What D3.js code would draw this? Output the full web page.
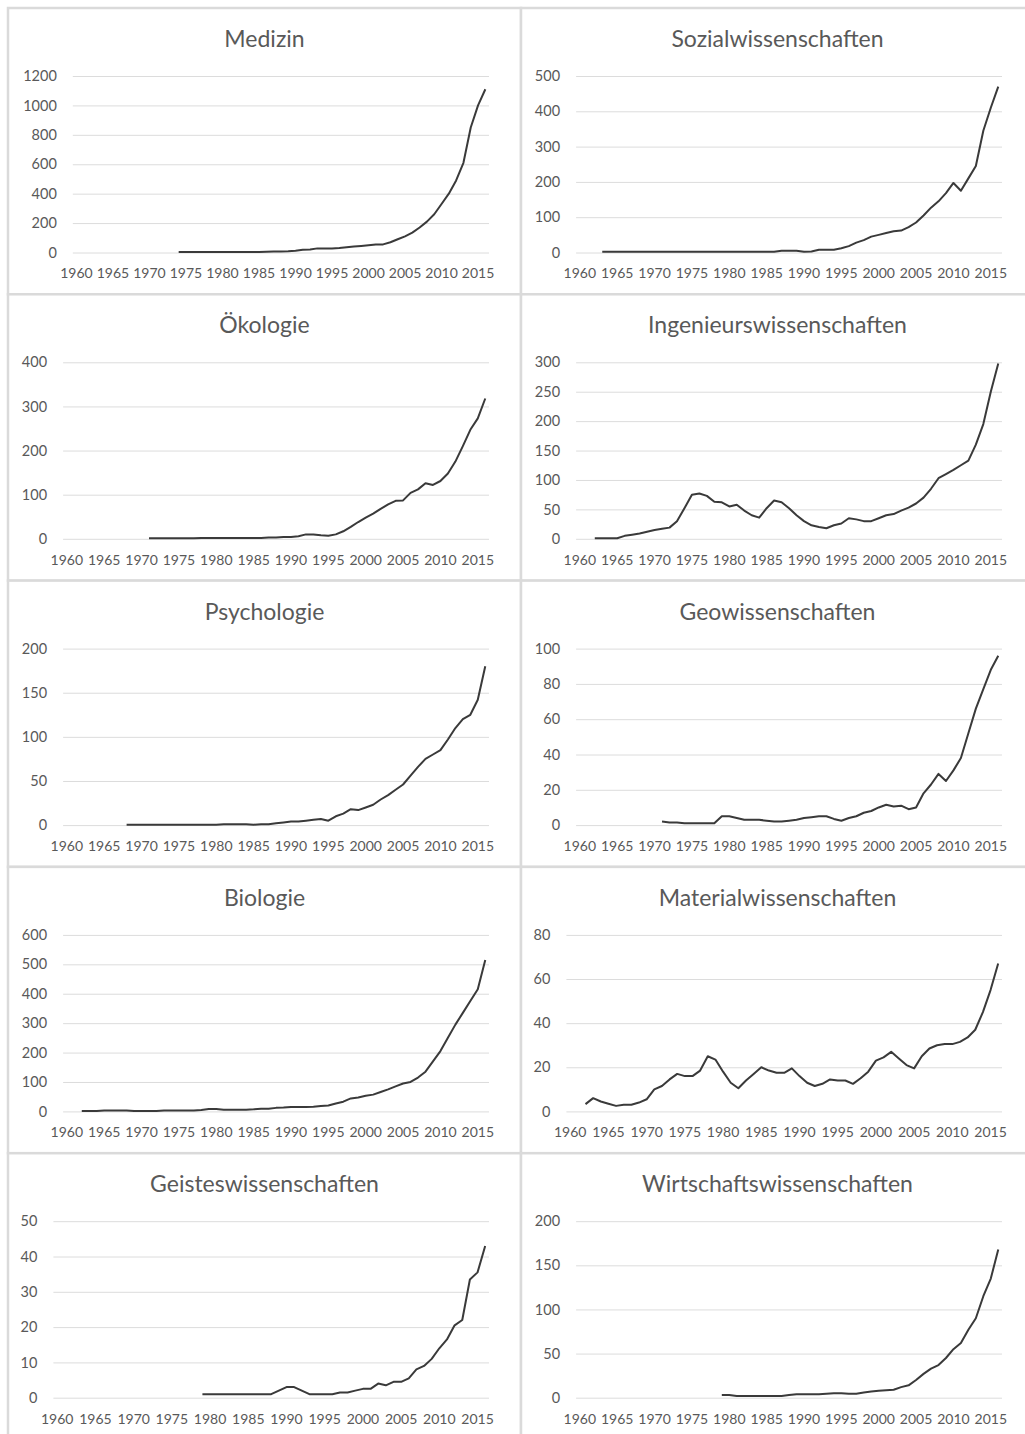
<!DOCTYPE html>
<html>
<head>
<meta charset="utf-8">
<script src="https://cdn.jsdelivr.net/npm/d3@7"></script>
<style>
  body { margin: 0; background: #fff; }
  text { font-family: Lato, "Open Sans", sans-serif; fill: #595959; }
</style>
</head>
<body>
<svg id="chart" width="1025" height="1434"></svg>
<script>
// x axis categories (one per year) and labelled years
var years = d3.range(1960, 2017);
var tickYears = [1960, 1965, 1970, 1975, 1980, 1985, 1990, 1995, 2000, 2005, 2010, 2015];

// series, each starting at its first year with data
var medizinStart = 1974;
var medizin = [3, 3, 3, 3, 3, 3, 3, 3, 3, 3, 3, 4, 5, 6, 7, 8, 12, 18, 20, 28, 28, 28, 30, 35, 40, 45,
  50, 55, 55, 70, 90, 110, 135, 170, 210, 260, 330, 400, 490, 610, 850, 1000, 1110];

var sozialStart = 1963;
var sozial = [2, 2, 2, 2, 2, 2, 2, 2, 2, 2, 2, 2, 2, 2, 2, 2, 2, 2, 2, 2, 2, 2, 2, 2, 5, 5, 5, 2, 3, 8, 8, 8, 12,
  18, 28, 35, 45, 50, 55, 60, 62, 72, 85, 105, 127, 145, 168, 197, 175, 210, 245, 345, 410, 470];

var oekoStart = 1971;
var oeko = [1, 1, 1, 1, 1, 1, 1, 2, 2, 2, 2, 2, 2, 2, 2, 2, 3, 3, 4, 4, 6, 10, 10, 8, 7, 10, 17, 27, 38,
  48, 57, 68, 78, 86, 87, 104, 112, 126, 122, 131, 148, 175, 210, 247, 273, 318];

var ingStart = 1962;
var ing = [1, 1, 1, 1, 5, 7, 9, 12, 15, 17, 19, 30, 52, 75, 77, 73, 63, 62, 55, 58, 48, 40, 36, 52, 65, 62,
  52, 40, 30, 23, 20, 18, 23, 26, 35, 33, 30, 30, 35, 40, 42, 48, 53, 60, 70, 85, 103, 110, 117, 125,
  133, 160, 195, 250, 298];

var psychStart = 1968;
var psych = [0.5, 0.5, 0.5, 0.5, 0.5, 0.5, 0.5, 0.5, 0.5, 0.5, 0.5, 0.5, 0.5, 1, 1, 1, 1, 0.5, 1, 1, 2, 3,
  4, 4, 5, 6, 7, 5, 10, 13, 18, 17, 20, 23, 29, 34, 40, 46, 56, 66, 75, 80, 85, 97, 110, 120, 125, 142, 180];

var geoStart = 1971;
var geo = [2, 1.5, 1.5, 1, 1, 1, 1, 1, 5, 5, 4, 3, 3, 3, 2.5, 2, 2, 2.5, 3, 4, 4.5, 5, 5, 3.5, 2.5, 4, 5,
  7, 8, 10, 11.5, 10.5, 11, 9, 10, 18, 23, 29, 25, 31, 38, 52, 66, 77, 88, 96];

var bioStart = 1962;
var bio = [1, 1, 1, 3, 3, 3, 3, 1, 1, 1, 1, 3, 3, 3, 3, 3, 5, 8, 8, 6, 6, 6, 6, 7, 9, 9, 12, 13, 15, 15,
  15, 16, 18, 20, 27, 33, 44, 47, 53, 57, 66, 75, 85, 95, 100, 115, 135, 170, 205, 250, 295, 335, 375,
  415, 515];

var materialStart = 1962;
var material = [3.3, 6, 4.5, 3.5, 2.5, 3, 3, 4, 5.5, 10, 11.5, 14.5, 17, 16, 16, 18.5, 25, 23.5, 18, 13,
  10.5, 14, 17, 20, 18.5, 17.5, 17.5, 19.5, 16, 13, 11.5, 12.5, 14.5, 14, 14, 12.5, 15, 18, 23, 24.5,
  27, 24, 21, 19.5, 25, 28.5, 30, 30.5, 30.5, 31.5, 33.5, 37, 45, 55, 67];

var geistesStart = 1979;
var geistes = [1, 1, 1, 1, 1, 1, 1, 1, 1, 1, 2, 3, 3, 2, 1, 1, 1, 1, 1.5, 1.5, 2, 2.5, 2.5, 4, 3.5, 4.5,
  4.5, 5.5, 8, 9, 11, 14, 16.5, 20.5, 22, 33.5, 35.5, 43];

var wirtschaftStart = 1979;
var wirtschaft = [3, 3, 2, 2, 2, 2, 2, 2, 2, 3, 4, 4, 4, 4, 4.5, 5, 5, 4.5, 4.5, 6, 7, 8, 8.5, 9, 12, 14,
  20, 27, 33, 37, 45, 55, 62, 77, 90, 115, 135, 168];

// panel order: left column then right column, row by row
var panels = [
  { title: "Medizin", start: medizinStart, values: medizin, yMax: 1200, yStep: 200 },
  { title: "Sozialwissenschaften", start: sozialStart, values: sozial, yMax: 500, yStep: 100 },
  { title: "Ökologie", start: oekoStart, values: oeko, yMax: 400, yStep: 100 },
  { title: "Ingenieurswissenschaften", start: ingStart, values: ing, yMax: 300, yStep: 50 },
  { title: "Psychologie", start: psychStart, values: psych, yMax: 200, yStep: 50 },
  { title: "Geowissenschaften", start: geoStart, values: geo, yMax: 100, yStep: 20 },
  { title: "Biologie", start: bioStart, values: bio, yMax: 600, yStep: 100 },
  { title: "Materialwissenschaften", start: materialStart, values: material, yMax: 80, yStep: 20 },
  { title: "Geisteswissenschaften", start: geistesStart, values: geistes, yMax: 50, yStep: 10 },
  { title: "Wirtschaftswissenschaften", start: wirtschaftStart, values: wirtschaft, yMax: 200, yStep: 50 }
];

var svg = d3.select("#chart");
var colX = [8, 521];
var panelW = 513, panelH = 286.3;
var plotTop = 68, plotBottom = 244.5, plotRight = 481;
var tickFont = "14px";

panels.forEach(function(p, i) {
  var col = i % 2, row = Math.floor(i / 2);
  var g = svg.append("g")
    .attr("transform", "translate(" + colX[col] + "," + (8 + row * panelH) + ")");

  g.append("rect")
    .attr("width", panelW)
    .attr("height", panelH)
    .attr("fill", "#fff")
    .attr("stroke", "#dadada")
    .attr("stroke-width", 2.5);

  g.append("text")
    .attr("x", panelW / 2)
    .attr("y", 39)
    .attr("text-anchor", "middle")
    .style("font-size", "23px")
    .text(p.title);

  // left edge of the plot grows with the widest y label
  var digits = String(p.yMax).length;
  var plotLeft = 26 + digits * 9.7;

  var x = d3.scaleBand().domain(years).range([plotLeft, plotRight]);
  var y = d3.scaleLinear().domain([0, p.yMax]).range([plotBottom, plotTop]);
  var yTicks = d3.range(0, p.yMax + p.yStep / 2, p.yStep);

  var yAxis = g.append("g")
    .attr("transform", "translate(" + plotLeft + ",0)")
    .call(d3.axisLeft(y).tickValues(yTicks).tickFormat(d3.format("d"))
      .tickSize(-(plotRight - plotLeft)).tickPadding(16));
  yAxis.select(".domain").remove();
  yAxis.selectAll(".tick line").attr("stroke", "#dcdcdc").attr("stroke-width", 1);
  yAxis.selectAll(".tick text")
    .style("font-size", "14.5px")
    .style("font-family", "Lato, 'Open Sans', sans-serif")
    .attr("fill", "#595959");

  var xAxis = g.append("g")
    .attr("transform", "translate(0," + plotBottom + ")")
    .call(d3.axisBottom(x).tickValues(tickYears).tickSize(0).tickPadding(16));
  xAxis.select(".domain").remove();
  xAxis.selectAll(".tick text")
    .style("font-size", tickFont)
    .style("font-family", "Lato, 'Open Sans', sans-serif")
    .attr("fill", "#595959");

  var line = d3.line()
    .x(function(d, j) { return x(p.start + j) + x.bandwidth() / 2; })
    .y(function(d) { return y(d); });

  g.append("path")
    .datum(p.values)
    .attr("d", line)
    .attr("fill", "none")
    .attr("stroke", "#3a3a3a")
    .attr("stroke-width", 2)
    .attr("stroke-linejoin", "round");
});
</script>
</body>
</html>
